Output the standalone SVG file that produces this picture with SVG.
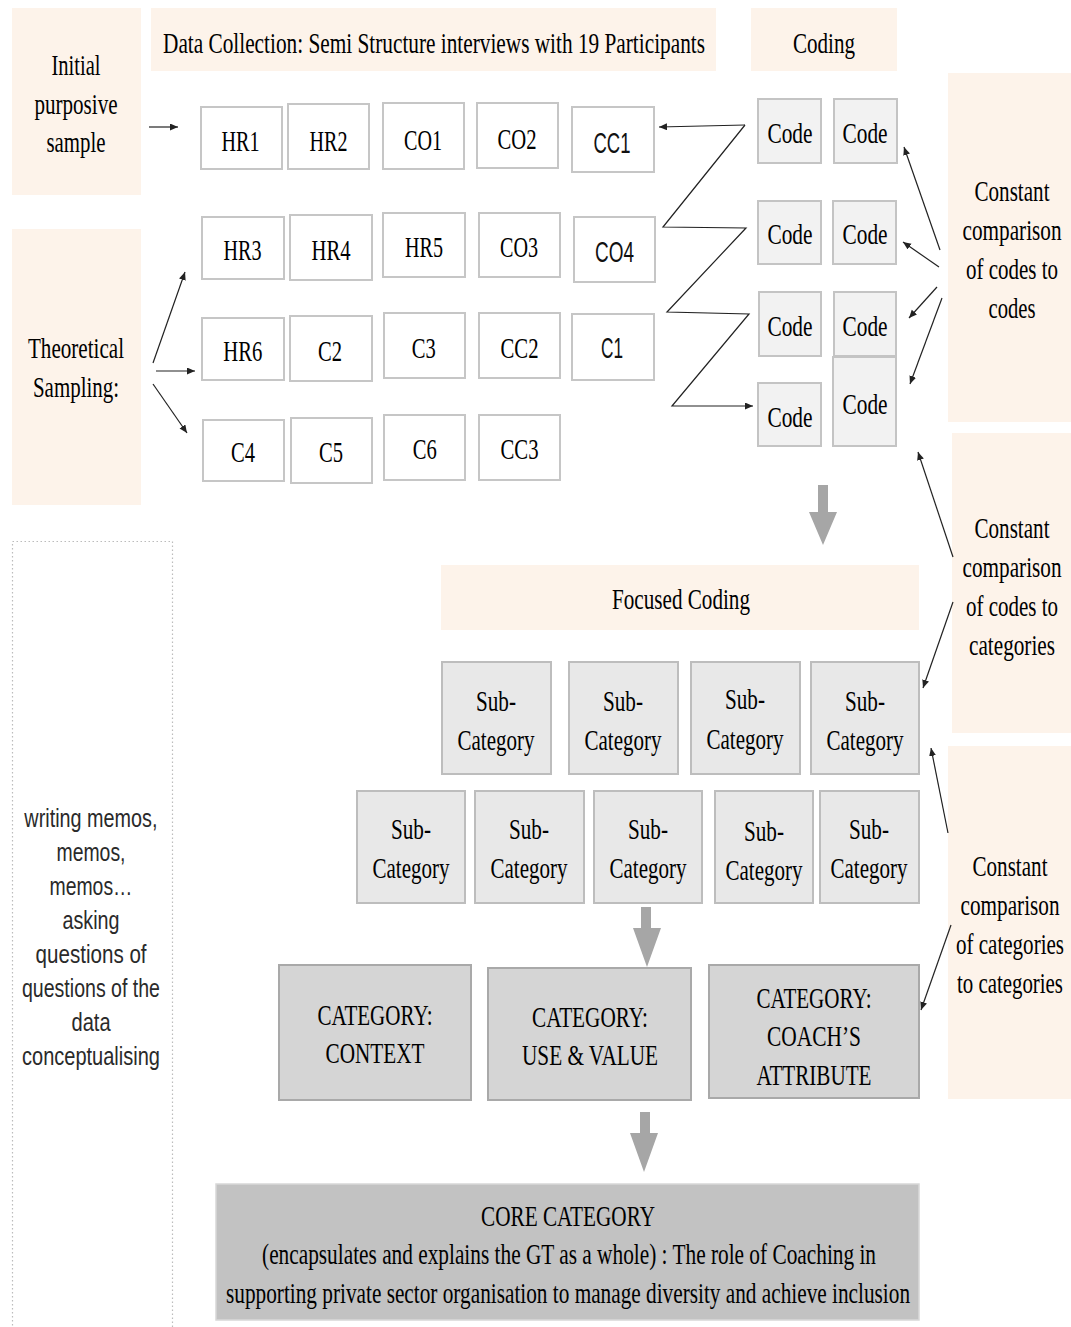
<svg xmlns="http://www.w3.org/2000/svg" width="1071" height="1327" viewBox="0 0 1071 1327">
  <style>
    .peach { fill: #fdf3ea; }
    .plain { fill: #ffffff; stroke: #c6c6c6; stroke-width: 2; }
    .code { fill: #f2f2f2; stroke: #c4c4c4; stroke-width: 2; }
    .sub { fill: #e8e8e8; stroke: #bdbdbd; stroke-width: 2; }
    .cat { fill: #d5d5d5; stroke: #a9a9a9; stroke-width: 2; }
    .core { fill: #c2c2c2; stroke: #d8d8d8; stroke-width: 1.5; }
    .memo { fill: none; stroke: #bcbcbc; stroke-width: 1.2; stroke-dasharray: 1.5 2.5; }
    /* condensed lettering: each line is squeezed about its own centre */
    text { text-anchor: middle; transform-box: fill-box; transform-origin: center; }
    .sf { font-family: "Liberation Serif", "Times New Roman", serif; font-size: 30px; fill: #000; transform: scaleX(0.68); }
    .ss { font-family: "Liberation Sans", Arial, sans-serif; font-size: 29px; fill: #111; transform: scaleX(0.64); }
    .sm { font-family: "Liberation Sans", Arial, sans-serif; font-size: 25px; fill: #2a2a2a; transform: scaleX(0.79); }
    .thin { fill: none; stroke: #222; stroke-width: 1.2; }
    .block { fill: #a6a6a6; }
  </style>
  <defs>
    <marker id="head" markerUnits="userSpaceOnUse" markerWidth="9" markerHeight="8" refX="8" refY="3.5" orient="auto">
      <path d="M0,0 L8,3.5 L0,7 z" fill="#222"/>
    </marker>
  </defs>

  <rect width="1071" height="1327" fill="#ffffff"/>

  <!-- side panels -->
  <g id="initial-sample">
    <rect class="peach" x="12" y="8" width="129" height="187"/>
    <text class="sf" x="76" y="75" textLength="72.1" lengthAdjust="spacingAndGlyphs">Initial</text>
    <text class="sf" x="76" y="114" textLength="122.1" lengthAdjust="spacingAndGlyphs">purposive</text>
    <text class="sf" x="76" y="152" textLength="86.8" lengthAdjust="spacingAndGlyphs">sample</text>
  </g>
  <g id="data-collection">
    <rect class="peach" x="151" y="8" width="565" height="63"/>
    <text class="sf" x="434" y="53" textLength="797" lengthAdjust="spacingAndGlyphs">Data Collection: Semi Structure interviews with 19 Participants</text>
  </g>
  <g id="coding">
    <rect class="peach" x="751" y="8" width="146" height="63"/>
    <text class="sf" x="824" y="53" textLength="91.2" lengthAdjust="spacingAndGlyphs">Coding</text>
  </g>
  <g id="theoretical-sampling">
    <rect class="peach" x="12" y="229" width="129" height="276"/>
    <text class="sf" x="76" y="358" textLength="141.2" lengthAdjust="spacingAndGlyphs">Theoretical</text>
    <text class="sf" x="76" y="397" textLength="126.5" lengthAdjust="spacingAndGlyphs">Sampling:</text>
  </g>
  <g id="compare-codes-codes">
    <rect class="peach" x="948" y="73" width="123" height="349"/>
    <text class="sf" x="1012" y="201" textLength="110.3" lengthAdjust="spacingAndGlyphs">Constant</text>
    <text class="sf" x="1012" y="240" textLength="145.6" lengthAdjust="spacingAndGlyphs">comparison</text>
    <text class="sf" x="1012" y="279" textLength="135.3" lengthAdjust="spacingAndGlyphs">of codes to</text>
    <text class="sf" x="1012" y="318" textLength="69.1" lengthAdjust="spacingAndGlyphs">codes</text>
  </g>
  <g id="compare-codes-categories">
    <rect class="peach" x="952" y="433" width="119" height="300"/>
    <text class="sf" x="1012" y="538" textLength="110.3" lengthAdjust="spacingAndGlyphs">Constant</text>
    <text class="sf" x="1012" y="577" textLength="145.6" lengthAdjust="spacingAndGlyphs">comparison</text>
    <text class="sf" x="1012" y="616" textLength="135.3" lengthAdjust="spacingAndGlyphs">of codes to</text>
    <text class="sf" x="1012" y="655" textLength="126.5" lengthAdjust="spacingAndGlyphs">categories</text>
  </g>
  <g id="compare-categories">
    <rect class="peach" x="948" y="746" width="123" height="353"/>
    <text class="sf" x="1010" y="876" textLength="110.3" lengthAdjust="spacingAndGlyphs">Constant</text>
    <text class="sf" x="1010" y="915" textLength="145.6" lengthAdjust="spacingAndGlyphs">comparison</text>
    <text class="sf" x="1010" y="954" textLength="158.8" lengthAdjust="spacingAndGlyphs">of categories</text>
    <text class="sf" x="1010" y="993" textLength="155.9" lengthAdjust="spacingAndGlyphs">to categories</text>
  </g>
  <g id="memos">
    <rect class="memo" x="12.5" y="541.5" width="160" height="800"/>
    <text class="sm" x="91" y="827" textLength="168.4" lengthAdjust="spacingAndGlyphs">writing memos,</text>
    <text class="sm" x="91" y="861" textLength="87.3" lengthAdjust="spacingAndGlyphs">memos,</text>
    <text class="sm" x="91" y="895" textLength="105.1" lengthAdjust="spacingAndGlyphs">memos…</text>
    <text class="sm" x="91" y="929" textLength="72.2" lengthAdjust="spacingAndGlyphs">asking</text>
    <text class="sm" x="91" y="963" textLength="140.5" lengthAdjust="spacingAndGlyphs">questions  of</text>
    <text class="sm" x="91" y="997" textLength="174.7" lengthAdjust="spacingAndGlyphs">questions of the</text>
    <text class="sm" x="91" y="1031" textLength="49.4" lengthAdjust="spacingAndGlyphs">data</text>
    <text class="sm" x="91" y="1065" textLength="174.7" lengthAdjust="spacingAndGlyphs">conceptualising</text>
  </g>

  <!-- participant boxes -->
  <g id="hr1"><rect class="plain" x="201" y="107" width="81" height="62"/><text class="sf" x="240.5" y="151" textLength="55.9" lengthAdjust="spacingAndGlyphs">HR1</text></g>
  <g id="hr2"><rect class="plain" x="288" y="104" width="81" height="65"/><text class="sf" x="328.5" y="151" textLength="55.9" lengthAdjust="spacingAndGlyphs">HR2</text></g>
  <g id="co1"><rect class="plain" x="383" y="103" width="81" height="66"/><text class="sf" x="423" y="150" textLength="55.9" lengthAdjust="spacingAndGlyphs">CO1</text></g>
  <g id="co2"><rect class="plain" x="477" y="103" width="81" height="65"/><text class="sf" x="517" y="149" textLength="57.4" lengthAdjust="spacingAndGlyphs">CO2</text></g>
  <g id="cc1"><rect class="plain" x="572" y="107" width="82" height="65"/><text class="ss" x="612" y="153" textLength="57.8" lengthAdjust="spacingAndGlyphs">CC1</text></g>

  <g id="hr3"><rect class="plain" x="202" y="217" width="82" height="62"/><text class="sf" x="242.5" y="260" textLength="55.9" lengthAdjust="spacingAndGlyphs">HR3</text></g>
  <g id="hr4"><rect class="plain" x="290" y="215" width="82" height="65"/><text class="sf" x="331" y="260" textLength="57.4" lengthAdjust="spacingAndGlyphs">HR4</text></g>
  <g id="hr5"><rect class="plain" x="383" y="213" width="82" height="64"/><text class="sf" x="424" y="257" textLength="55.9" lengthAdjust="spacingAndGlyphs">HR5</text></g>
  <g id="co3"><rect class="plain" x="479" y="213" width="81" height="64"/><text class="sf" x="519" y="257" textLength="55.9" lengthAdjust="spacingAndGlyphs">CO3</text></g>
  <g id="co4"><rect class="plain" x="574" y="217" width="81" height="65"/><text class="ss" x="614.5" y="262" textLength="60.9" lengthAdjust="spacingAndGlyphs">CO4</text></g>

  <g id="hr6"><rect class="plain" x="202" y="318" width="82" height="62"/><text class="sf" x="242.7" y="361" textLength="57.4" lengthAdjust="spacingAndGlyphs">HR6</text></g>
  <g id="c2"><rect class="plain" x="290" y="316" width="82" height="65"/><text class="sf" x="330" y="361" textLength="35.3" lengthAdjust="spacingAndGlyphs">C2</text></g>
  <g id="c3"><rect class="plain" x="384" y="313" width="81" height="65"/><text class="sf" x="423.7" y="358" textLength="35.3" lengthAdjust="spacingAndGlyphs">C3</text></g>
  <g id="cc2"><rect class="plain" x="479" y="313" width="81" height="65"/><text class="sf" x="519.5" y="358" textLength="55.9" lengthAdjust="spacingAndGlyphs">CC2</text></g>
  <g id="c1"><rect class="plain" x="572" y="314" width="82" height="66"/><text class="ss" x="612" y="358" textLength="34.4" lengthAdjust="spacingAndGlyphs">C1</text></g>

  <g id="c4"><rect class="plain" x="203" y="420" width="81" height="61"/><text class="sf" x="243" y="462" textLength="35.3" lengthAdjust="spacingAndGlyphs">C4</text></g>
  <g id="c5"><rect class="plain" x="291" y="418" width="81" height="65"/><text class="sf" x="331" y="462" textLength="35.3" lengthAdjust="spacingAndGlyphs">C5</text></g>
  <g id="c6"><rect class="plain" x="384" y="415" width="81" height="65"/><text class="sf" x="424.7" y="459" textLength="35.3" lengthAdjust="spacingAndGlyphs">C6</text></g>
  <g id="cc3"><rect class="plain" x="479" y="415" width="81" height="65"/><text class="sf" x="519.5" y="459" textLength="55.9" lengthAdjust="spacingAndGlyphs">CC3</text></g>

  <!-- code boxes -->
  <g id="code-1a"><rect class="code" x="758" y="99" width="63" height="64"/><text class="sf" x="790" y="143" textLength="66.2" lengthAdjust="spacingAndGlyphs">Code</text></g>
  <g id="code-1b"><rect class="code" x="834" y="99" width="63" height="64"/><text class="sf" x="865" y="143" textLength="66.2" lengthAdjust="spacingAndGlyphs">Code</text></g>
  <g id="code-2a"><rect class="code" x="758" y="201" width="63" height="63"/><text class="sf" x="790" y="244" textLength="66.2" lengthAdjust="spacingAndGlyphs">Code</text></g>
  <g id="code-2b"><rect class="code" x="833" y="201" width="63" height="63"/><text class="sf" x="865" y="244" textLength="66.2" lengthAdjust="spacingAndGlyphs">Code</text></g>
  <g id="code-3a"><rect class="code" x="759" y="292" width="62" height="64"/><text class="sf" x="790" y="336" textLength="66.2" lengthAdjust="spacingAndGlyphs">Code</text></g>
  <g id="code-3b"><rect class="code" x="834" y="292" width="62" height="64"/><text class="sf" x="865" y="336" textLength="66.2" lengthAdjust="spacingAndGlyphs">Code</text></g>
  <g id="code-4a"><rect class="code" x="758" y="383" width="63" height="63"/><text class="sf" x="790" y="427" textLength="66.2" lengthAdjust="spacingAndGlyphs">Code</text></g>
  <g id="code-4b"><rect class="code" x="833" y="357" width="63" height="89"/><text class="sf" x="865" y="414" textLength="66.2" lengthAdjust="spacingAndGlyphs">Code</text></g>

  <!-- focused coding -->
  <g id="focused-coding">
    <rect class="peach" x="441" y="565" width="478" height="65"/>
    <text class="sf" x="681" y="609" textLength="202.9" lengthAdjust="spacingAndGlyphs">Focused Coding</text>
  </g>

  <g id="sub-1"><rect class="sub" x="442" y="662" width="109" height="112"/><text class="sf" x="496" y="711" textLength="58.8" lengthAdjust="spacingAndGlyphs">Sub-</text><text class="sf" x="496" y="750" textLength="113.2" lengthAdjust="spacingAndGlyphs">Category</text></g>
  <g id="sub-2"><rect class="sub" x="569" y="662" width="109" height="112"/><text class="sf" x="623" y="711" textLength="58.8" lengthAdjust="spacingAndGlyphs">Sub-</text><text class="sf" x="623" y="750" textLength="113.2" lengthAdjust="spacingAndGlyphs">Category</text></g>
  <g id="sub-3"><rect class="sub" x="691" y="662" width="109" height="112"/><text class="sf" x="745" y="709" textLength="58.8" lengthAdjust="spacingAndGlyphs">Sub-</text><text class="sf" x="745" y="749" textLength="113.2" lengthAdjust="spacingAndGlyphs">Category</text></g>
  <g id="sub-4"><rect class="sub" x="811" y="662" width="108" height="112"/><text class="sf" x="865" y="711" textLength="58.8" lengthAdjust="spacingAndGlyphs">Sub-</text><text class="sf" x="865" y="750" textLength="113.2" lengthAdjust="spacingAndGlyphs">Category</text></g>

  <g id="sub-5"><rect class="sub" x="357" y="791" width="108" height="112"/><text class="sf" x="411" y="839" textLength="58.8" lengthAdjust="spacingAndGlyphs">Sub-</text><text class="sf" x="411" y="878" textLength="113.2" lengthAdjust="spacingAndGlyphs">Category</text></g>
  <g id="sub-6"><rect class="sub" x="475" y="791" width="109" height="112"/><text class="sf" x="529" y="839" textLength="58.8" lengthAdjust="spacingAndGlyphs">Sub-</text><text class="sf" x="529" y="878" textLength="113.2" lengthAdjust="spacingAndGlyphs">Category</text></g>
  <g id="sub-7"><rect class="sub" x="594" y="791" width="108" height="112"/><text class="sf" x="648" y="839" textLength="58.8" lengthAdjust="spacingAndGlyphs">Sub-</text><text class="sf" x="648" y="878" textLength="113.2" lengthAdjust="spacingAndGlyphs">Category</text></g>
  <g id="sub-8"><rect class="sub" x="715" y="791" width="98" height="112"/><text class="sf" x="764" y="841" textLength="58.8" lengthAdjust="spacingAndGlyphs">Sub-</text><text class="sf" x="764" y="880" textLength="113.2" lengthAdjust="spacingAndGlyphs">Category</text></g>
  <g id="sub-9"><rect class="sub" x="820" y="791" width="99" height="112"/><text class="sf" x="869" y="839" textLength="58.8" lengthAdjust="spacingAndGlyphs">Sub-</text><text class="sf" x="869" y="878" textLength="113.2" lengthAdjust="spacingAndGlyphs">Category</text></g>

  <!-- categories -->
  <g id="cat-context"><rect class="cat" x="279" y="965" width="192" height="135"/><text class="sf" x="375" y="1025" textLength="169.1" lengthAdjust="spacingAndGlyphs">CATEGORY:</text><text class="sf" x="375" y="1063" textLength="145.6" lengthAdjust="spacingAndGlyphs">CONTEXT</text></g>
  <g id="cat-use-value"><rect class="cat" x="488" y="968" width="203" height="132"/><text class="sf" x="590" y="1027" textLength="170.6" lengthAdjust="spacingAndGlyphs">CATEGORY:</text><text class="sf" x="590" y="1065" textLength="200" lengthAdjust="spacingAndGlyphs">USE &amp; VALUE</text></g>
  <g id="cat-coach"><rect class="cat" x="709" y="965" width="210" height="133"/><text class="sf" x="814" y="1008" textLength="169.1" lengthAdjust="spacingAndGlyphs">CATEGORY:</text><text class="sf" x="814" y="1046" textLength="138.2" lengthAdjust="spacingAndGlyphs">COACH’S</text><text class="sf" x="814" y="1085" textLength="169.1" lengthAdjust="spacingAndGlyphs">ATTRIBUTE</text></g>

  <g id="core-category">
    <rect class="core" x="216" y="1184" width="703" height="136"/>
    <text class="sf" x="568" y="1226" textLength="255.9" lengthAdjust="spacingAndGlyphs">CORE CATEGORY</text>
    <text class="sf" x="569" y="1264" textLength="902.9" lengthAdjust="spacingAndGlyphs">(encapsulates and explains the GT as a whole) : The role of Coaching in</text>
    <text class="sf" x="568" y="1303" textLength="1005.9" lengthAdjust="spacingAndGlyphs">supporting private sector organisation to manage diversity and achieve inclusion</text>
  </g>

  <!-- connectors -->
  <g id="connectors">
    <path class="thin" d="M149,127 H178" marker-end="url(#head)"/>
    <path class="thin" d="M153,363 L185,272" marker-end="url(#head)"/>
    <path class="thin" d="M156,371 H195" marker-end="url(#head)"/>
    <path class="thin" d="M153,384 L187,433" marker-end="url(#head)"/>

    <path class="thin" d="M745,125 L659,127" marker-end="url(#head)"/>
    <path class="thin" d="M745,125 L663,227 L746,228 L667,312 L749,314 L672,406 L753,406" marker-end="url(#head)"/>

    <path class="thin" d="M940,250 L904,147" marker-end="url(#head)"/>
    <path class="thin" d="M939,267 L903,242" marker-end="url(#head)"/>
    <path class="thin" d="M937,287 L909,318" marker-end="url(#head)"/>
    <path class="thin" d="M942,298 L910,384" marker-end="url(#head)"/>

    <path class="thin" d="M953,557 L918,452" marker-end="url(#head)"/>
    <path class="thin" d="M953,602 L923,688" marker-end="url(#head)"/>

    <path class="thin" d="M948,833 L931,748" marker-end="url(#head)"/>
    <path class="thin" d="M951,925 L921,1010" marker-end="url(#head)"/>

    <polygon class="block" points="818,485 828,485 828,512 837,512 823,545 809,512 818,512"/>
    <polygon class="block" points="641,907 651,907 651,928 661,928 647,967 633,928 641,928"/>
    <polygon class="block" points="640,1112 650,1112 650,1133 658,1133 644,1172 630,1133 640,1133"/>
  </g>
</svg>
